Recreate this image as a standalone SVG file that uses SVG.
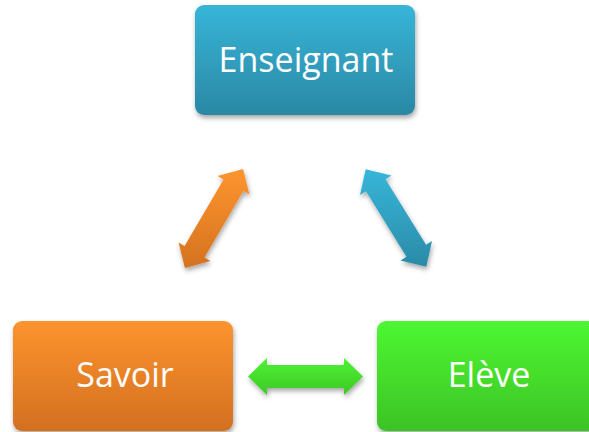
<svg xmlns="http://www.w3.org/2000/svg" width="589" height="432" viewBox="0 0 589 432">
<defs>
<linearGradient id="gBlue" x1="0" y1="0" x2="0" y2="1"><stop offset="0" stop-color="#37b5d8"/><stop offset="1" stop-color="#2a88a4"/></linearGradient>
<linearGradient id="gOrange" x1="0" y1="0" x2="0" y2="1"><stop offset="0" stop-color="#fd932f"/><stop offset="1" stop-color="#d3701f"/></linearGradient>
<linearGradient id="gGreen" x1="0" y1="0" x2="0" y2="1"><stop offset="0" stop-color="#4df731"/><stop offset="1" stop-color="#3dc326"/></linearGradient>
<linearGradient id="aOrange" gradientUnits="userSpaceOnUse" x1="0" y1="169" x2="0" y2="268"><stop offset="0" stop-color="#fd952f"/><stop offset="1" stop-color="#d5721f"/></linearGradient>
<linearGradient id="aBlue" gradientUnits="userSpaceOnUse" x1="0" y1="169" x2="0" y2="268"><stop offset="0" stop-color="#37b6da"/><stop offset="1" stop-color="#2a8aa6"/></linearGradient>
<linearGradient id="aGreen" gradientUnits="userSpaceOnUse" x1="0" y1="358" x2="0" y2="395"><stop offset="0" stop-color="#4ef233"/><stop offset="1" stop-color="#3dc827"/></linearGradient>
<filter id="sh" x="-20%" y="-20%" width="140%" height="150%"><feDropShadow dx="1" dy="3" stdDeviation="2.5" flood-color="#000" flood-opacity="0.35"/></filter>
</defs>
<style>
.lbl{font-family:"Open Sans","Noto Sans",sans-serif;font-size:34px;fill:#ffffff;text-anchor:middle}
</style>
<g id="connectors" filter="url(#sh)">
<polygon fill="url(#aOrange)" points="243.07,168.88 249.44,194.62 243.39,191.08 204.45,257.54 210.50,261.08 184.93,268.12 178.56,242.38 184.61,245.92 223.55,179.46 217.50,175.92"/>
<polygon fill="url(#aBlue)" points="426.29,266.86 400.56,260.46 406.51,256.77 365.95,191.35 360.00,195.04 365.71,169.14 391.44,175.54 385.49,179.23 426.05,244.65 432.00,240.96"/>
<polygon fill="url(#aGreen)" points="248,376.5 267,358 267,365 344,365 344,358 363,376.5 344,395 344,388 267,388 267,395"/>
</g>
<g id="enseignant">
<rect x="195" y="5" width="220" height="110" rx="9" fill="url(#gBlue)" filter="url(#sh)"/>
<text class="lbl" x="306" y="72">Enseignant</text>
</g>
<g id="savoir">
<rect x="13" y="321" width="220" height="110" rx="9" fill="url(#gOrange)" filter="url(#sh)"/>
<text class="lbl" x="125" y="387">Savoir</text>
</g>
<g id="eleve">
<rect x="377" y="321" width="220" height="110" rx="9" fill="url(#gGreen)" filter="url(#sh)"/>
<text class="lbl" x="489" y="387">Elève</text>
</g>
</svg>
